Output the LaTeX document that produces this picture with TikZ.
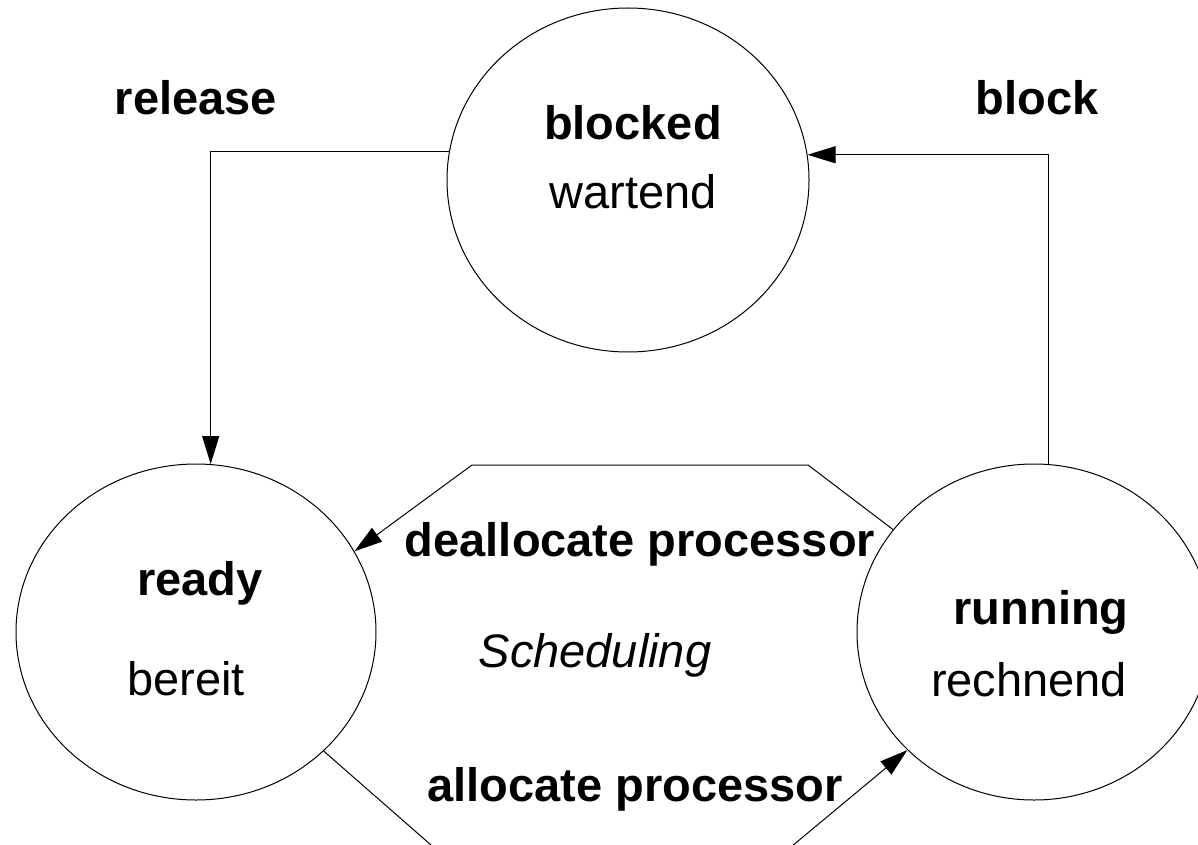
\documentclass[tikz,border=0pt]{standalone}
\usepackage{fontspec}
\setmainfont{Liberation Sans}
\usetikzlibrary{shapes.geometric,arrows.meta}
\tikzset{
  state/.style={draw=black, line width=1pt, ellipse, inner sep=0pt},
  lbl/.style={anchor=base, inner sep=0pt, font=\fontsize{47}{56}\selectfont\bfseries},
  txt/.style={anchor=base, inner sep=0pt, font=\fontsize{47}{56}\selectfont},
  conn/.style={line width=1pt, -{Triangle[length=28pt,width=17pt]}},
  plain/.style={line width=1pt}
}
\begin{document}
\begin{tikzpicture}[x=1pt,y=-1pt]
\useasboundingbox (0,0) rectangle (1198,845);
\clip (0,0) rectangle (1198,845);
\node[state, minimum width=362pt, minimum height=344pt] (blocked) at (628,180) {};
\node[state, minimum width=360pt, minimum height=336pt] (ready) at (196,632) {};
\node[state, minimum width=354pt, minimum height=336pt] (running) at (1034,632) {};

\node[lbl] (tblocked) at (633,140) {blocked};
\node[txt] (twartend) at (633,208) {wartend};
\node[lbl] (tready) at (200,595) {ready};
\node[txt] (tbereit) at (186,695) {bereit};
\node[lbl] (trunning) at (1041,624) {running};
\node[txt] (trechnend) at (1029,696) {rechnend};
\node[lbl] (trelease) at (196,115) {release};
\node[lbl] (tblock) at (1037,115) {block};
\node[txt, font=\fontsize{47}{56}\selectfont\itshape] (tsched) at (595,667) {Scheduling};
\node[lbl] (tdealloc) at (640,556) {deallocate processor};
\node[lbl] (talloc) at (635,801) {allocate processor};

\coordinate (d1) at (808,465);
\coordinate (d2) at (472,465);
\coordinate (a1) at (455,866);
\coordinate (a2) at (768,866);

\draw[conn] (blocked.171.4) -| (ready.85.9);
\draw[conn] (running.85) |- (blocked.8.6);
\draw[conn] (running.144) -- (d1) -- (d2) -- (ready.27.6);
\draw[conn] (ready.-43.4) -- (a1) -- (a2) -- (running.223);
\end{tikzpicture}
\end{document}
